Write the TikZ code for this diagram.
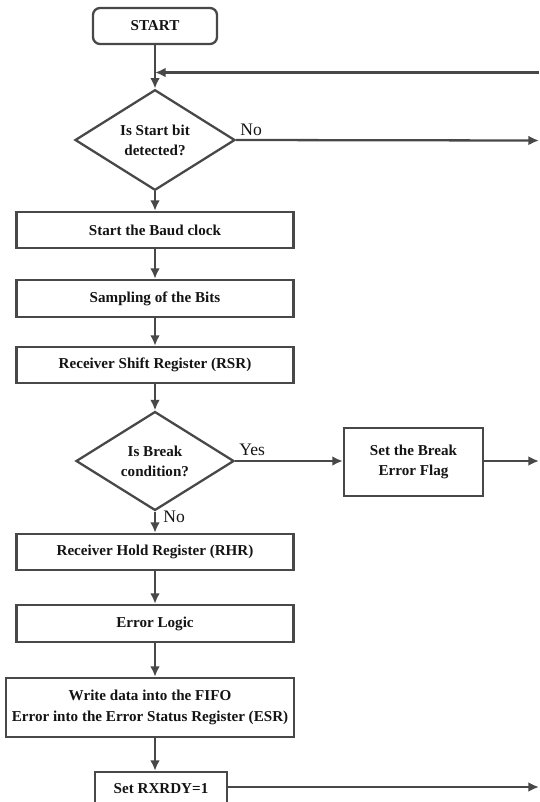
\documentclass[tikz,border=0pt]{standalone}
\usepackage{fontspec}
\setmainfont{Liberation Serif}
\usetikzlibrary{shapes.geometric,arrows.meta}
\definecolor{ln}{HTML}{484848}
\definecolor{tx}{HTML}{141414}
\tikzset{
  boxtext/.style={font=\fontsize{8.6}{11.5}\selectfont\bfseries, text=tx, align=center},
  procbox/.style={boxtext, draw=ln, line width=1.3pt, rectangle, inner sep=0pt},
  roundbox/.style={procbox, rounded corners=4pt},
  decbox/.style={boxtext, draw=ln, line width=1.3pt, diamond, inner sep=0pt},
  conn/.style={draw=ln, line width=1.3pt, -{Latex[length=6pt,width=5.5pt]}},
  lbl/.style={font=\fontsize{10}{12}\selectfont, text=tx, inner sep=0pt}
}
\begin{document}
\begin{tikzpicture}[x=0.02cm,y=-0.02cm]
\useasboundingbox (0,0) rectangle (539,802);
\clip (0,0) rectangle (539,802);
\fill[white] (0,0) rectangle (539,802);

\node[roundbox, minimum width=124*0.02cm, minimum height=36*0.02cm] (start) at (155,26) {START};
\node[decbox, minimum width=160*0.02cm, minimum height=86*0.02cm] (d1) at (155,140) {Is Start bit\\detected?};
\node[procbox, minimum width=277*0.02cm, minimum height=36*0.02cm] (b1) at (155,230) {Start the Baud clock};
\node[procbox, minimum width=277*0.02cm, minimum height=37*0.02cm] (b2) at (155,298.5) {Sampling of the Bits};
\node[procbox, minimum width=277*0.02cm, minimum height=36*0.02cm] (b3) at (155,365) {Receiver Shift Register (RSR)};
\node[decbox, minimum width=158*0.02cm, minimum height=89*0.02cm] (d2) at (155,461) {Is Break\\condition?};
\node[procbox, minimum width=139*0.02cm, minimum height=68*0.02cm] (brk) at (413.5,462) {Set the Break\\Error Flag};
\node[procbox, minimum width=277*0.02cm, minimum height=36*0.02cm] (rhr) at (155,552) {Receiver Hold Register (RHR)};
\node[procbox, minimum width=277*0.02cm, minimum height=37*0.02cm] (err) at (155,623.5) {Error Logic};
\node[procbox, minimum width=288*0.02cm, minimum height=59*0.02cm] (fifo) at (150,707.5) {Write data into the FIFO\\Error into the Error Status Register (ESR)};
\node[procbox, minimum width=132*0.02cm, minimum height=34*0.02cm] (rx) at (161,789) {Set RXRDY=1};

\coordinate (join) at (155,72.5);
\coordinate (rtop) at (539,72.5);
\coordinate (rno) at (539,140.5);
\coordinate (rbrk) at (539,461);
\coordinate (rrx) at (539,787);

\draw[conn] (start) -- (d1);
\draw[conn] (rtop) -- (join);
\draw[conn] (d1.east) -- (rno);
\draw[conn] (d1) -- (b1);
\draw[conn] (b1) -- (b2);
\draw[conn] (b2) -- (b3);
\draw[conn] (b3) -- (d2);
\draw[conn] (d2.east) -- (brk.west |- d2.east);
\draw[conn] (brk.east |- d2.east) -- (rbrk);
\draw[conn] (d2) -- (rhr);
\draw[conn] (rhr) -- (err);
\draw[conn] (err.south -| 155,0) -- (fifo.north -| 155,0);
\draw[conn] (fifo.south -| 155,0) -- (rx.north -| 155,0);
\draw[conn] (rx.east |- rrx) -- (rrx);

\node[lbl, anchor=south west] (lno1) at (240,136) {No};
\node[lbl, anchor=south west] (lyes) at (239,456) {Yes};
\node[lbl, anchor=west] (lno2) at (163,517) {No};
\end{tikzpicture}
\end{document}
